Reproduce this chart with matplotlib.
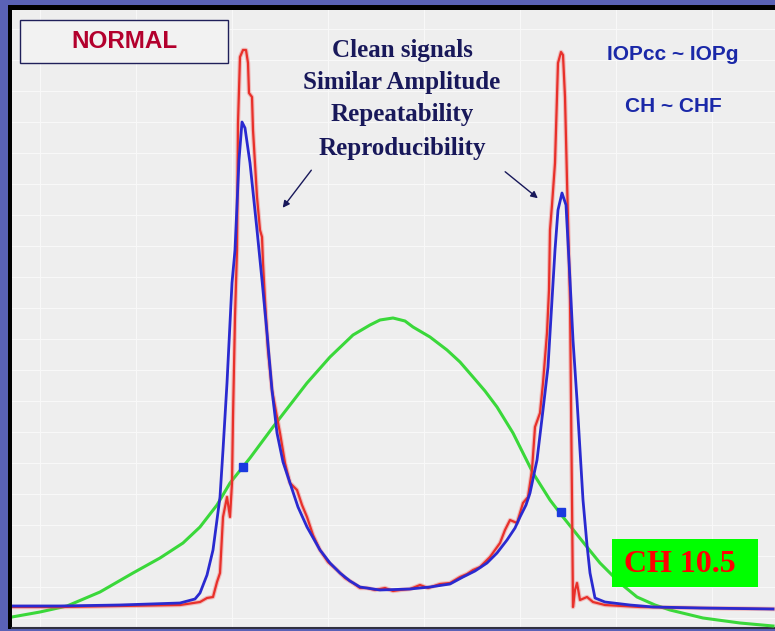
import matplotlib
matplotlib.use("Agg")
import matplotlib.pyplot as plt
from matplotlib.patches import Rectangle

# curves: x position, amplitude above the baseline
blue_x = [12, 60, 120, 180, 195, 200, 207, 213, 220, 223, 227, 232, 235, 239, 242,
          245, 250, 257, 262, 267, 272, 277, 283, 290, 298, 307, 320, 330, 340, 350,
          360, 380, 410, 430, 450, 463, 475, 487, 497, 507, 515, 520, 526, 530, 537,
          543, 548, 552, 555, 558, 562, 566, 570, 573, 577, 583, 587, 590, 595, 605,
          630, 653, 700, 773]
blue_y = [22, 22, 23, 25, 29, 35, 53, 78, 131, 178, 245, 345, 378, 468, 506,
          500, 465, 398, 348, 295, 238, 195, 166, 145, 121, 101, 78, 65, 55, 47,
          41, 38, 39, 41, 44, 51, 57, 65, 75, 88, 100, 111, 123, 135, 168,
          218, 261, 328, 378, 418, 435, 423, 348, 288, 228, 128, 83, 55, 30, 26,
          23, 21, 20, 19]

red_x = [12, 60, 120, 180, 200, 207, 213, 217, 220, 223, 227, 230, 232, 233, 235,
         237, 238, 240, 243, 246, 248, 249, 252, 253, 257, 260, 262, 263, 265, 268,
         272, 277, 280, 285, 290, 297, 302, 307, 313, 320, 328, 337, 345, 353, 360,
         367, 375, 385, 393, 400, 410, 420, 428, 440, 450, 460, 467, 473, 480, 490,
         500, 505, 510, 517, 523, 528, 532, 535, 540, 543, 547, 549, 550, 552, 555,
         558, 561, 563, 565, 567, 569, 570, 572, 573, 575, 577, 580, 587, 593, 605,
         640, 700, 773]
red_y = [21, 21, 22, 23, 26, 30, 31, 46, 55, 111, 131, 111, 145, 211, 311,
         378, 505, 571, 578, 578, 565, 535, 531, 498, 431, 398, 391, 365, 328, 278,
         238, 211, 195, 165, 145, 138, 123, 111, 93, 78, 66, 58, 50, 45, 40,
         40, 38, 40, 37, 38, 39, 43, 40, 44, 45, 51, 54, 58, 61, 71,
         85, 98, 108, 105, 125, 131, 158, 201, 215, 245, 295, 338, 398, 423, 465,
         565, 576, 573, 531, 448, 368, 328, 128, 21, 38, 45, 28, 31, 26, 23,
         21, 20, 19]

green_x = [12, 40, 67, 100, 133, 160, 183, 200, 217, 230, 250, 273, 290, 307, 330,
           353, 370, 380, 393, 405, 413, 430, 447, 460, 473, 485, 497, 513, 520, 533,
           550, 563, 575, 587, 600, 620, 637, 655, 670, 703, 740, 773]
green_y = [11, 16, 22, 36, 55, 70, 85, 101, 123, 145, 170, 201, 223, 245, 271,
           293, 303, 308, 310, 307, 301, 291, 278, 266, 251, 237, 221, 195, 181, 155,
           128, 111, 96, 81, 65, 45, 31, 23, 18, 10, 5, 2]

marker_x = [243, 561]
marker_y = [161, 116]

notes = ["Clean signals", "Similar Amplitude", "Repeatability", "Reproducibility"]
note_y = [577, 545, 513, 480]

fig = plt.figure(figsize=(7.75, 6.31), dpi=100, facecolor="#5a62b6")
frame = fig.add_axes([8 / 775, 2 / 631, 767 / 775, 624 / 631], facecolor="black")
frame.set_axis_off()
frame.add_patch(Rectangle((0, 0), 1, 1, transform=frame.transAxes, color="black"))
ax = fig.add_axes([12 / 775, 3 / 631, 763 / 775, 618 / 631], facecolor="#eeeeee")
ax.set_xlim(12, 775)
ax.set_ylim(0, 618)

ax.set_yticks(range(10, 618, 31))
ax.set_xticks(range(40, 775, 96))
ax.grid(True, color="#f8f8f8", lw=0.8)
ax.tick_params(length=0, labelbottom=False, labelleft=False)
for side in ["top", "right", "left"]:
    ax.spines[side].set_visible(False)
ax.spines["bottom"].set_color("#303040")
ax.spines["bottom"].set_linewidth(1.5)

ax.plot(green_x, green_y, color="#3ad83a", lw=2.2, zorder=3)
ax.plot(red_x, red_y, color="#f06060", lw=3.2, alpha=0.35, zorder=4)
ax.plot(red_x, red_y, color="#e8302a", lw=1.6, zorder=4)
ax.plot(blue_x, blue_y, color="#2a2ad0", lw=2.0, zorder=5)
ax.plot(marker_x, marker_y, "s", color="#1a3adf", ms=6, zorder=6)

ax.add_patch(Rectangle((20, 565), 208, 43, facecolor="#f2f2f2", edgecolor="#20205a",
                       lw=1.0, zorder=7))
ax.text(124, 587, "NORMAL", color="#b3002d", fontsize=17.5, fontweight="bold",
        family="Liberation Sans", ha="center", va="center", zorder=8)

for label, y in zip(notes, note_y):
    ax.text(402, y, label, color="#18185a", fontsize=18, fontweight="bold",
            family="Liberation Serif", ha="center", va="center", zorder=8)

ax.text(673, 574, "IOPcc ~ IOPg", color="#1a28a8", fontsize=15, fontweight="bold",
        family="Liberation Sans", ha="center", va="center", zorder=8)
ax.text(673, 522, "CH ~ CHF", color="#1a28a8", fontsize=15, fontweight="bold",
        family="Liberation Sans", ha="center", va="center", zorder=8)

ax.annotate("", xy=(281, 418), xytext=(313, 460),
            arrowprops=dict(arrowstyle="-|>", color="#18185a", lw=1.0, mutation_scale=10))
ax.annotate("", xy=(540, 428), xytext=(503, 458),
            arrowprops=dict(arrowstyle="-|>", color="#18185a", lw=1.0, mutation_scale=10))

ax.add_patch(Rectangle((612, 41), 146, 48, facecolor="#00ff00", edgecolor="none", zorder=7))
ax.text(680, 64, "CH 10.5", color="#ff0000", fontsize=23, fontweight="bold",
        family="Liberation Serif", ha="center", va="center", zorder=8)

fig.savefig("out.png", dpi=100, facecolor=fig.get_facecolor())
